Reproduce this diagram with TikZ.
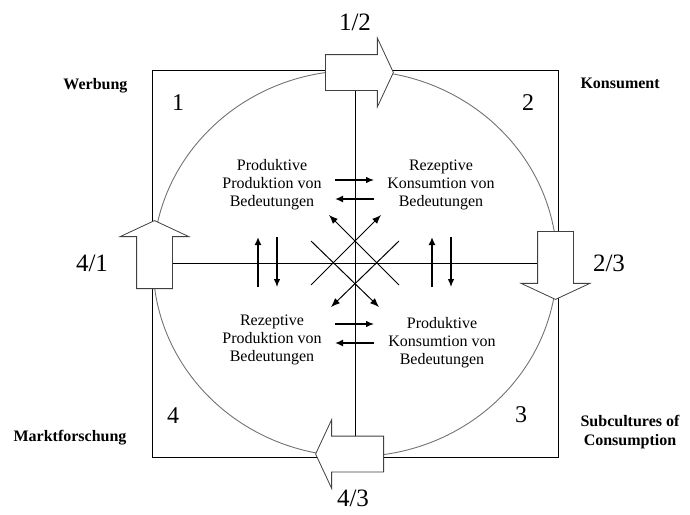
\documentclass[tikz,border=0pt]{standalone}
\usepackage{fontspec}
\setmainfont{Liberation Serif}
\usetikzlibrary{shapes.arrows, arrows.meta, positioning}

\tikzset{
  bigarrow/.style={single arrow, draw=black!75, fill=white, line width=0.8pt, minimum height=68pt, inner xsep=0pt, inner ysep=17.5pt, single arrow head extend=16.5pt, single arrow tip angle=130},
  cornerno/.style={font=\fontsize{24}{26}\selectfont},
  phase/.style={font=\fontsize{25}{27}\selectfont},
  actor/.style={font=\bfseries\fontsize{16}{19}\selectfont, align=center},
  mode/.style={font=\fontsize{16}{18}\selectfont, align=center},
  thinarr/.style={line width=1.2pt, -{Latex[length=8pt,width=6.5pt]}},
  thickarr/.style={line width=2.2pt, -{Latex[length=8pt,width=7pt]}},
  diagarr/.style={line width=1pt, -{Latex[length=9pt,width=7pt]}}
}

\begin{document}
\begin{tikzpicture}[x=1pt, y=-1pt]
  \useasboundingbox (0,0) rectangle (690,514);

  % frame, circle and axes
  \draw[line width=0.9pt] (152,70) rectangle (558,457);
  \draw[black!55, line width=0.9pt] (355,263.5) ellipse (202 and 193);
  \coordinate (top) at (355,70);
  \coordinate (bottom) at (355,457);
  \coordinate (left) at (152,263);
  \coordinate (right) at (558,263);
  \draw[line width=0.8pt] (top) -- (bottom);
  \draw[line width=0.8pt] (left) -- (right);

  % phase arrows
  \node[bigarrow, anchor=tail] (a12) at (325,72.5) {};
  \node[bigarrow, anchor=tail, rotate=-90] (a23) at (555.5,231) {};
  \node[bigarrow, anchor=tail, rotate=180] (a43) at (384,454) {};
  \node[bigarrow, anchor=tail, rotate=90] (a41) at (154.5,289) {};

  \node[phase] (l12) at (355,22) {1/2};
  \node[phase] (l23) at (609,263) {2/3};
  \node[phase] (l43) at (353,498) {4/3};
  \node[phase] (l41) at (92,263) {4/1};

  % quadrant numbers
  \node[cornerno] (q1) at (178,103) {1};
  \node[cornerno] (q2) at (528,103) {2};
  \node[cornerno] (q3) at (521,415) {3};
  \node[cornerno] (q4) at (173,416) {4};

  % actors
  \node[actor, anchor=east] (werbung) at (131,86) {Werbung};
  \node[actor, anchor=west] (konsument) at (577,83) {Konsument};
  \node[actor, anchor=east] (markt) at (130,438) {Marktforschung};
  \node[actor] (subcult) at (630,432) {Subcultures of\\Consumption};

  % modes of meaning
  \node[mode] (pp) at (272,185) {Produktive\\Produktion von\\Bedeutungen};
  \node[mode] (rk) at (441,185) {Rezeptive\\Konsumtion von\\Bedeutungen};
  \node[mode] (rp) at (272,340) {Rezeptive\\Produktion von\\Bedeutungen};
  \node[mode] (pk) at (442,343) {Produktive\\Konsumtion von\\Bedeutungen};

  % horizontal exchange
  \coordinate (h1a) at (335,180);
  \coordinate (h1b) at (374,180);
  \coordinate (h2a) at (374,199);
  \coordinate (h2b) at (335,199);
  \coordinate (h3a) at (335,324);
  \coordinate (h3b) at (374,324);
  \coordinate (h4a) at (374,343);
  \coordinate (h4b) at (335,343);
  \draw[thinarr] (h1a) -- (h1b);
  \draw[thickarr] (h2a) -- (h2b);
  \draw[thinarr] (h3a) -- (h3b);
  \draw[thickarr] (h4a) -- (h4b);

  % vertical exchange
  \coordinate (v1a) at (258,287);
  \coordinate (v1b) at (258,237);
  \coordinate (v2a) at (277,237);
  \coordinate (v2b) at (277,287);
  \coordinate (v3a) at (432,287);
  \coordinate (v3b) at (432,237);
  \coordinate (v4a) at (451,237);
  \coordinate (v4b) at (451,287);
  \draw[thickarr] (v1a) -- (v1b);
  \draw[thinarr] (v2a) -- (v2b);
  \draw[thickarr] (v3a) -- (v3b);
  \draw[thinarr] (v4a) -- (v4b);

  % diagonal exchange
  \coordinate (d1a) at (311,241);
  \coordinate (d1b) at (379,307);
  \coordinate (d2a) at (311,285);
  \coordinate (d2b) at (381,215);
  \coordinate (d3a) at (399,241);
  \coordinate (d3b) at (331,307);
  \coordinate (d4a) at (399,285);
  \coordinate (d4b) at (329,215);
  \draw[diagarr] (d1a) -- (d1b);
  \draw[diagarr] (d2a) -- (d2b);
  \draw[diagarr] (d3a) -- (d3b);
  \draw[diagarr] (d4a) -- (d4b);
\end{tikzpicture}
\end{document}
